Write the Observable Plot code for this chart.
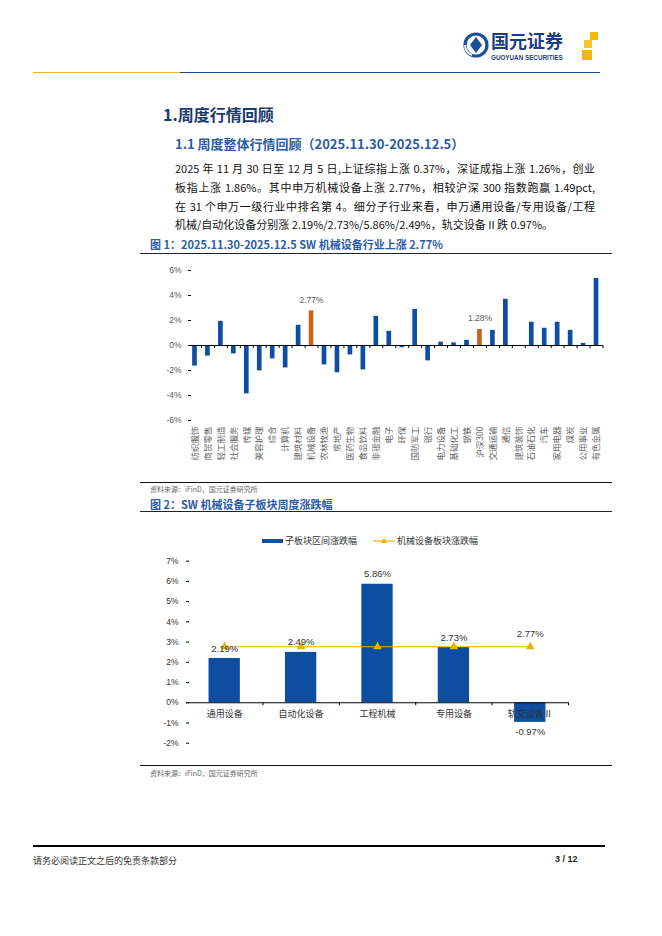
<!DOCTYPE html>
<html>
<head>
<meta charset="utf-8">
<script src="https://cdn.jsdelivr.net/npm/d3@7"></script>
<script src="https://cdn.jsdelivr.net/npm/@observablehq/plot@0.6"></script>
<style>
  html, body { margin: 0; padding: 0; background: #fff; }
  body { width: 662px; height: 936px; position: relative; overflow: hidden; font-family: "Noto Sans CJK SC", "Liberation Sans", sans-serif; }
  .abs { position: absolute; white-space: nowrap; }
  .h1 { left: 163px; top: 102px; font-size: 16px; font-weight: 700; color: #1b3a6e; }
  .h2 { left: 175px; top: 134px; font-size: 13px; font-weight: 700; color: #2b5ca6; }
  .para { left: 175px; width: 420px; font-size: 11px; color: #111; line-height: 18px; white-space: normal; text-align: justify; text-align-last: justify; }
  .para.last { text-align-last: left; }
  .figt { left: 150px; font-size: 11px; font-weight: 700; color: #2b5ca6; }
  .src { left: 150px; font-size: 7px; color: #666; }
  .hr { position: absolute; height: 0; }
  .legend { font-size: 9px; color: #333; }
</style>
</head>
<body>
<!-- header logo -->
<svg class="abs" style="left:462px;top:28px" width="140" height="38" viewBox="0 0 140 38">
  <circle cx="14" cy="17" r="11" fill="none" stroke="#1d4f9c" stroke-width="3.2"/>
  <path d="M14 9 L20 17 L14 25 L8 17 Z" fill="#1d4f9c"/>
  <path d="M3 17 A11 11 0 0 0 10 27" stroke="#fff" stroke-width="2" fill="none"/>
  <text x="29" y="20" font-size="18" font-weight="700" fill="#1b3f86" font-family="Noto Sans CJK SC">国元证券</text>
  <text x="29" y="32" font-size="6.3" font-weight="700" fill="#1b3f86" font-family="Liberation Sans">GUOYUAN SECURITIES</text>
  <rect x="128" y="4" width="8" height="8" fill="#f2b705"/>
  <rect x="122" y="12" width="8" height="8" fill="#f6c630"/>
  <rect x="120" y="22" width="10" height="10" fill="#f2b705"/>
</svg>
<div class="hr" style="left:33px;top:72px;width:147px;border-top:1.5px solid #f0b23a"></div>
<div class="hr" style="left:180px;top:72px;width:420px;border-top:1.5px solid #1f4e8f"></div>

<div class="abs h1">1.周度行情回顾</div>
<div class="abs h2">1.1 周度整体行情回顾（2025.11.30-2025.12.5）</div>
<div class="abs para" style="top:159px">2025 年 11 月 30 日至 12 月 5 日,上证综指上涨 0.37%，深证成指上涨 1.26%，创业</div>
<div class="abs para" style="top:178px">板指上涨 1.86%。其中申万机械设备上涨 2.77%，相较沪深 300 指数跑赢 1.49pct,</div>
<div class="abs para" style="top:197px">在 31 个申万一级行业中排名第 4。细分子行业来看，申万通用设备/专用设备/工程</div>
<div class="abs para last" style="top:215px">机械/自动化设备分别涨 2.19%/2.73%/5.86%/2.49%，轨交设备 II 跌 0.97%。</div>

<div class="abs figt" style="top:236px">图 1：2025.11.30-2025.12.5 SW 机械设备行业上涨 2.77%</div>
<div class="hr" style="left:140px;top:253px;width:472px;border-top:1px solid #222"></div>
<div id="chart1" class="abs" style="left:140px;top:255px"></div>
<div class="hr" style="left:140px;top:482px;width:472px;border-top:1.5px solid #111"></div>
<div class="abs src" style="top:484px">资料来源：iFinD，国元证券研究所</div>

<div class="abs figt" style="top:496px">图 2：SW 机械设备子板块周度涨跌幅</div>
<div class="hr" style="left:140px;top:511px;width:472px;border-top:1px solid #222"></div>
<div class="abs legend" style="left:262px;top:533px">
  <span style="display:inline-block;width:21px;height:4px;background:#0d4ea1;vertical-align:middle"></span>
  <span style="vertical-align:middle">子板块区间涨跌幅</span>
</div>
<div class="abs legend" style="left:373px;top:533px">
  <svg width="22" height="10" style="vertical-align:middle"><line x1="0" y1="5" x2="22" y2="5" stroke="#f0b000" stroke-width="1.2"/><path d="M11 2 L14 7 L8 7 Z" fill="#f0b000"/></svg>
  <span style="vertical-align:middle">机械设备板块涨跌幅</span>
</div>
<div id="chart2" class="abs" style="left:140px;top:550px"></div>
<div class="hr" style="left:140px;top:765px;width:472px;border-top:1.5px solid #111"></div>
<div class="abs src" style="top:768px">资料来源：iFinD，国元证券研究所</div>

<div class="hr" style="left:33px;top:845px;width:572px;border-top:2.5px solid #000"></div>
<div class="abs" style="left:33px;top:854px;font-size:9px;color:#333">请务必阅读正文之后的免责条款部分</div>
<div class="abs" style="left:555px;top:854px;font-size:9px;font-weight:700;color:#222;font-family:'Liberation Sans'">3 / 12</div>

<script>
// ---------- Data: chart 1 ----------
const industries = ["纺织服饰","商贸零售","轻工制造","社会服务","传媒","美容护理","综合","计算机","建筑材料","机械设备","农林牧渔","房地产","医药生物","食品饮料","非银金融","电子","环保","国防军工","银行","电力设备","基础化工","钢铁","沪深300","交通运输","通信","建筑装饰","石油石化","汽车","家用电器","煤炭","公用事业","有色金属"];
const industryChange = [-1.65,-0.85,1.93,-0.67,-3.87,-2.03,-1.07,-1.79,1.62,2.77,-1.55,-2.18,-0.75,-1.95,2.33,1.13,-0.18,2.89,-1.23,0.27,0.21,0.41,1.28,1.21,3.70,-0.08,1.86,1.38,1.86,1.21,0.17,5.36];
const highlighted = ["机械设备","沪深300"];
const yTicks1 = [-6,-4,-2,0,2,4,6];

// ---------- Data: chart 2 ----------
const subsectors = ["通用设备","自动化设备","工程机械","专用设备","轨交设备Ⅱ"];
const subChange = [2.19,2.49,5.86,2.73,-0.97];
const sectorChange = [2.77,2.77,2.77,2.77,2.77];
const yTicks2 = [-2,-1,0,1,2,3,4,5,6,7];

const BLUE = "#0d4ea1", ORANGE = "#c2661f", GOLD = "#f0b000";
const pct = v => v.toFixed(2) + "%";

// ---------- Chart 1 ----------
const data1 = industries.map((name, i) => ({name, value: industryChange[i]}));
const W1 = 470, H1 = 225, ML1 = 48, MR1 = 7.5;
const step1 = (W1 - ML1 - MR1) / industries.length;
const chart1 = Plot.plot({
  width: W1, height: H1,
  marginLeft: ML1, marginRight: MR1, marginTop: 15, marginBottom: 60,
  style: {fontFamily: "'Liberation Sans', Arial, sans-serif", fontSize: "8.5px", color: "#595959", background: "transparent", overflow: "visible"},
  x: {type: "band", domain: industries, paddingInner: 0.64, paddingOuter: 0.32, round: false, label: null},
  y: {domain: [-6, 6], label: null},
  marks: [
    Plot.barY(data1.filter(d => !highlighted.includes(d.name)), {x: "name", y: "value", fill: BLUE}),
    Plot.barY(data1.filter(d => highlighted.includes(d.name)), {x: "name", y: "value", fill: ORANGE}),
    Plot.ruleY([0], {stroke: "#000", strokeWidth: 1}),
    Plot.ruleX(industries.slice(1), {x: d => d, y1: 0, y2: -0.25, dx: -step1 / 2, stroke: "#000"}),
    Plot.ruleX(industries.slice(-1), {x: d => d, y1: 0, y2: -0.25, dx: step1 / 2, stroke: "#000"}),
    Plot.axisY({ticks: yTicks1, tickSize: 0, tickPadding: 7, tickFormat: d => d + "%", line: true, stroke: "#000", color: "#595959"}),
    Plot.axisY({ticks: yTicks1, tickSize: 3, dx: 3, tickFormat: () => "", stroke: "#000"}),
    Plot.axisX({tickSize: 0, tickRotate: -90, tickPadding: 6, fontFamily: "'Noto Sans CJK SC'", fontSize: 8.5, fill: "#666", label: null}),
    Plot.text(data1.filter(d => highlighted.includes(d.name)), {x: "name", y: "value", text: d => pct(d.value), dy: -11, fill: "#595959", fontSize: 8.5})
  ]
});
document.getElementById("chart1").appendChild(chart1);

// ---------- Chart 2 ----------
const data2 = subsectors.map((name, i) => ({name, value: subChange[i], sector: sectorChange[i]}));
const W2 = 472, H2 = 200, ML2 = 46, MR2 = 44;
const step2 = (W2 - ML2 - MR2) / subsectors.length;
const chart2 = Plot.plot({
  width: W2, height: H2,
  marginLeft: ML2, marginRight: MR2, marginTop: 10.7, marginBottom: 7.3,
  style: {fontFamily: "'Liberation Sans', Arial, sans-serif", fontSize: "8.5px", color: "#595959", background: "transparent", overflow: "visible"},
  x: {type: "band", domain: subsectors, paddingInner: 0.59, paddingOuter: 0.295, round: false, label: null, axis: null},
  y: {domain: [-2, 7], label: null},
  marks: [
    Plot.barY(data2, {x: "name", y: "value", fill: BLUE}),
    Plot.ruleY([0], {stroke: "#000", strokeWidth: 1}),
    Plot.ruleX(subsectors.slice(1), {x: d => d, y1: 0, y2: -0.15, dx: -step2 / 2, stroke: "#000"}),
    Plot.ruleX(subsectors.slice(-1), {x: d => d, y1: 0, y2: -0.15, dx: step2 / 2, stroke: "#000"}),
    Plot.axisY({ticks: yTicks2, tickSize: 0, tickPadding: 8, tickFormat: d => d + "%", line: true, stroke: "#000", color: "#333"}),
    Plot.axisY({ticks: yTicks2, tickSize: 3, dx: 3, tickFormat: () => "", stroke: "#000"}),
    Plot.text(data2, {x: "name", y: 0, text: "name", dy: 11.5, fill: "#333", fontFamily: "'Noto Sans CJK SC'", fontSize: 9}),
    Plot.lineY(data2, {x: "name", y: "sector", stroke: GOLD, strokeWidth: 1.2}),
    Plot.dot(data2, {x: "name", y: "sector", symbol: "triangle", fill: GOLD, r: 3.2}),
    Plot.text(data2.filter(d => d.value >= 0), {x: "name", y: "value", text: d => pct(d.value), dy: -10, fill: "#333", fontSize: 9.5}),
    Plot.text(data2.filter(d => d.value < 0), {x: "name", y: "value", text: d => pct(d.value), dy: 10, fill: "#333", fontSize: 9.5}),
    Plot.text(data2.slice(-1), {x: "name", y: "sector", text: d => pct(d.sector), dy: -13, fill: "#333", fontSize: 9.5})
  ]
});
document.getElementById("chart2").appendChild(chart2);
</script>
</body>
</html>
